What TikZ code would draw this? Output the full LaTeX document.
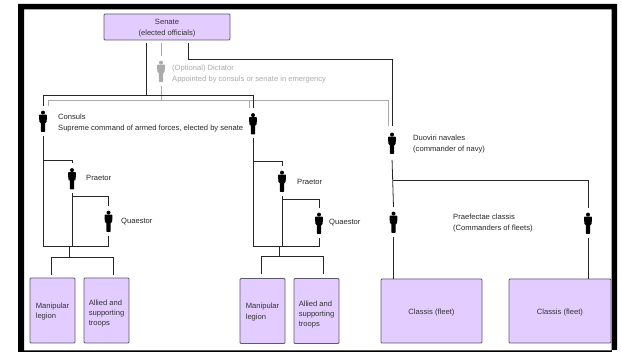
\documentclass[tikz,border=0pt]{standalone}
\usepackage{fontspec}
\setmainfont{Liberation Sans}
\usepackage{tikz}
\usetikzlibrary{positioning, calc}
\definecolor{unitFill}{RGB}{227, 204, 255}
\definecolor{unitEdge}{RGB}{90, 90, 105}
\definecolor{optional}{RGB}{170, 170, 170}
\newcommand{\lowered}[1]{\rule{0pt}{#1}}
\tikzstyle{line} = [line width=0.8pt, black!85]
\tikzstyle{greyline} = [line width=0.8pt, optional]
\tikzstyle{unit} = [rectangle, rounded corners=1pt, draw=unitEdge, line width=0.8pt, fill=unitFill, text=black!80, inner sep=0pt, outer sep=0pt, font=\fontsize{7.6pt}{10.2pt}\selectfont, align=left]
\tikzstyle{legion} = [unit, minimum width=45pt, minimum height=65pt]
\tikzstyle{fleet} = [unit, minimum width=101pt, minimum height=64pt]
\tikzstyle{note} = [anchor=west, inner sep=0pt, text=black!85, align=left, font=\fontsize{7.6pt}{10.2pt}\selectfont]
\tikzset{person/.style={rectangle, minimum width=9pt, minimum height=22pt, inner sep=0pt, outer sep=4pt,
  path picture={\begin{scope}[shift={(path picture bounding box.center)}]
    \fill [#1] (0,8.4) circle (2pt);
    \fill [#1, rounded corners=0.8pt] (-4,6.4) -- (4,6.4) -- (3.6,-1.5) -- (2.2,-1.5) -- (2.2,-11) -- (-2.2,-11) -- (-2.2,-1.5) -- (-3.6,-1.5) -- cycle;
  \end{scope}}},
  person/.default=black}

\begin{document}
\begin{tikzpicture}[x=1pt, y=1pt]
\useasboundingbox (0,0) rectangle (621,-352);

\fill [black, even odd rule] (18,-4) rectangle (617,-352) (24,-9.5) rectangle (611.7,-350.5);
\fill [white] (611.7,-350.5) rectangle (617.5,-352.5);

\node (senate) [unit, minimum width=126pt, minimum height=26pt, align=center] at(167,-27) {\lowered{7.5pt}Senate\\(elected officials)};

\node (dictator) [person=optional, xshift=-6pt, yshift=-44pt] at(senate.center) {};
\node (consulA) [person, xshift=-118pt, yshift=-50pt] at(dictator.center) {};
\node (consulB) [person, xshift=210pt, yshift=-2.5pt] at(consulA.center) {};
\node (praetorA) [person, xshift=29pt, yshift=-57.5pt] at(consulA.center) {};
\node (quaestorA) [person, xshift=36.5pt, yshift=-42.5pt] at(praetorA.center) {};
\node (praetorB) [person, xshift=29pt, yshift=-57.5pt] at(consulB.center) {};
\node (quaestorB) [person, xshift=37pt, yshift=-42pt] at(praetorB.center) {};
\node (duoviri) [person, xshift=139pt, yshift=-19.5pt] at(consulB.center) {};
\node (praefA) [person, xshift=1.5pt, yshift=-79pt] at(duoviri.center) {};
\node (praefB) [person, xshift=194.5pt, yshift=-1pt] at(praefA.center) {};

\node (legionA) [legion, xshift=-19.5pt, yshift=-132pt] at(praetorA.center) {\lowered{7.5pt}Manipular\\legion};
\node (alliedA) [legion, xshift=54pt] at(legionA.center) {\lowered{12pt}Allied and\\supporting\\troops};
\node (legionB) [legion, xshift=210pt, yshift=-0.5pt] at(legionA.center) {\lowered{7.5pt}Manipular\\legion};
\node (alliedB) [legion, xshift=54pt] at(legionB.center) {\lowered{12pt}Allied and\\supporting\\troops};
\node (classisA) [fleet, xshift=38pt, yshift=-89pt] at(praefA.center) {\lowered{8.5pt}Classis (fleet)};
\node (classisB) [fleet, xshift=-28pt, yshift=-88pt, minimum width=102pt] at(praefB.center) {\lowered{8.5pt}Classis (fleet)};

\node (dictatorText) [note, text=optional, xshift=2.5pt, yshift=-3pt] at(dictator.east) {(Optional) Dictator\\Appointed by consuls or senate in emergency};
\node (consulText) [note, xshift=6.5pt, yshift=-2pt] at(consulA.east) {Consuls\\Supreme command of armed forces, elected by senate};
\node (praetorTextA) [note, xshift=5.5pt, yshift=0.5pt] at(praetorA.east) {Praetor};
\node (quaestorTextA) [note, xshift=4pt, yshift=-1pt] at(quaestorA.east) {Quaestor};
\node (praetorTextB) [note, xshift=6.5pt, yshift=-1pt] at(praetorB.east) {Praetor};
\node (quaestorTextB) [note, xshift=1.5pt, yshift=0pt] at(quaestorB.east) {Quaestor};
\node (duoviriText) [note, xshift=12.5pt, yshift=-1pt] at(duoviri.east) {Duoviri navales\\(commander of navy)};
\node (praefText) [note, xshift=51pt, yshift=-1pt] at(praefA.east) {Praefectae classis\\(Commanders of fleets)};

% senate down to the consuls
\coordinate (senBlack) at($(senate.south)+(-21,-3)$);
\coordinate (senGrey) at($(senate.south)+(-6,-3)$);
\coordinate (senNavy) at($(senate.south)+(21,-3)$);
\coordinate (blackBar) at($(consulA.center)+(0,26)$);
\coordinate (greyBar) at($(consulA.center)+(0,21)$);
\coordinate (navyBar) at($(senNavy)+(0,-16)$);
\coordinate (greyEndA) at($(consulA.north)+(5,0)$);
\coordinate (greyEndB) at($(consulB.north)+(-4,0)$);
\coordinate (greyEndC) at($(duoviri.north)+(-3.3,2)$);

\draw [greyline] (greyEndA) -- (greyEndA |- greyBar) -- (greyEndC |- greyBar) -- (greyEndC);
\draw [greyline] (greyEndB) -- (greyEndB |- greyBar);
\draw [greyline] (senGrey) -- (dictator.north);
\draw [greyline] (dictator.south) -- (dictator |- greyBar);
\draw [line] (senBlack) -- (senBlack |- blackBar);
\draw [line] (consulA.north) -- (consulA |- blackBar) -- (consulB |- blackBar) -- (consulB.north);
\draw [line, shorten >=2pt] (senNavy) -- (navyBar) -| (duoviri.north);

% consuls, praetors, quaestors
\coordinate (baseA) at($(quaestorA.center)+(0,-25)$);
\coordinate (baseB) at($(quaestorB.center)+(0,-23)$);
\coordinate (stemA) at($(legionA.north)+(17,0)$);
\coordinate (stemB) at($(legionB.north)+(17,0)$);
\coordinate (forkA) at($(legionA.north)+(0,21)$);
\coordinate (forkB) at($(legionB.north)+(0,22)$);
\coordinate (tipA) at($(legionA.north)+(-1.5,3)$);
\coordinate (tipAllA) at($(alliedA.north)+(6.5,3)$);
\coordinate (tipB) at($(legionB.north)+(-1.5,4)$);
\coordinate (tipAllB) at($(alliedB.north)+(6.5,4)$);

\draw [line] (consulA.south) -- (consulA |- baseA) -- (baseA) -- (quaestorA.south);
\draw [line] (praetorA.south) -- (praetorA |- baseA);
\draw [line] (consulA |- 0,-160) -- (praetorA |- 0,-160) -- (praetorA.north);
\draw [line] (praetorA |- 0,-196) -- (quaestorA |- 0,-196) -- (quaestorA.north);
\draw [line] (stemA |- baseA) -- (stemA |- forkA);
\draw [line] (tipA) -- (tipA |- forkA) -- (tipAllA |- forkA) -- (tipAllA);

\draw [line] (consulB.south) -- (consulB |- baseB) -- (baseB) -- (quaestorB.south);
\draw [line] (praetorB.south) -- (praetorB |- baseB);
\draw [line] (consulB |- 0,-161.5) -- (praetorB |- 0,-161.5) -- (praetorB.north);
\draw [line] (praetorB |- 0,-199) -- (quaestorB |- 0,-199) -- (quaestorB.north);
\draw [line] (stemB |- baseB) -- (stemB |- forkB);
\draw [line] (tipB) -- (tipB |- forkB) -- (tipAllB |- forkB) -- (tipAllB);

% navy
\coordinate (navyFork) at($(duoviri.center)+(1,-37)$);
\draw [line, shorten <=2pt] (duoviri.south) -- (praefA.north);
\draw [line] (navyFork) -- (navyFork -| praefB) -- (praefB.north);
\draw [line] (praefA.south) -- (praefA |- classisA.north);
\draw [line] (praefB.south) -- (praefB |- classisB.north);

\end{tikzpicture}
\end{document}
